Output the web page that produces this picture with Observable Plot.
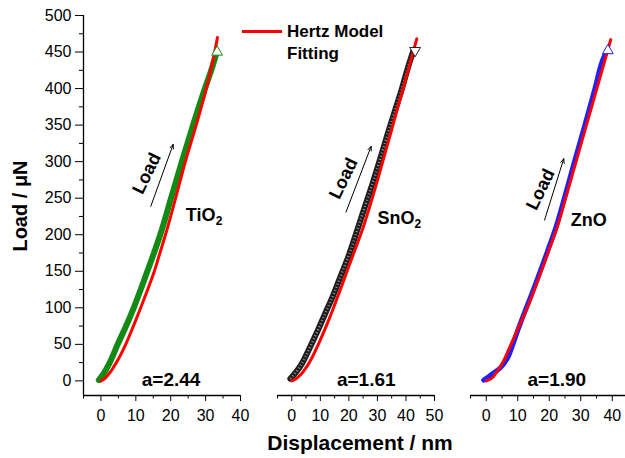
<!DOCTYPE html>
<html><head><meta charset="utf-8">
<script src="https://cdn.jsdelivr.net/npm/d3@7"></script>
<script src="https://cdn.jsdelivr.net/npm/@observablehq/plot@0.6"></script>
<style>
body{margin:0;background:#fff;}
#chart{position:relative;width:625px;height:458px;overflow:hidden;background:#fff;font-family:"Liberation Sans",Arial,sans-serif;}
#chart svg{position:absolute;left:0;top:0;}
.lbl{position:absolute;font-weight:bold;color:#000;white-space:nowrap;}
</style></head><body>
<div id="chart"></div>
<script>
// ---- data ----
const yDomain = [-20, 500];
const yTicks = [0, 50, 100, 150, 200, 250, 300, 350, 400, 450, 500];
const yMinorTicks = [25, 75, 125, 175, 225, 275, 325, 375, 425, 475];

const tio2XDomain = [-5, 40];
const tio2XTicks = [0, 10, 20, 30, 40];
const tio2XMinor = [-5, 5, 15, 25, 35];
const tio2Measured = [[-0.6,1],[0.5,8],[2.4,24],[4.8,50],[7.2,75],[9.4,100],[11.4,125],[13.3,150],[15.2,175],[17.0,200],[20.1,250],[23.2,300],[26.4,350],[29.8,400],[31.6,425],[33.2,450]];
const tio2Fit = [[0,0],[1,3],[2,8],[3,14],[4,22],[5,30],[7.1,50],[9.3,75],[11.4,100],[13.4,125],[15.3,150],[16.9,175],[18.5,200],[21.4,250],[24.2,300],[27.3,350],[30.2,400],[32.6,450],[33.4,470]];
const tio2End = [33.3, 450];

const sno2XDomain = [-5, 50];
const sno2XTicks = [0, 10, 20, 30, 40, 50];
const sno2XMinor = [-5, 5, 15, 25, 35, 45];
const sno2Measured = [[-0.5,3],[1.5,12],[3.6,24],[6,43],[9.1,69],[11.8,93],[14.4,116],[17,142],[20,172],[22.9,206],[25.5,237],[28.3,270],[31,304],[33.6,338],[36.1,369],[38.6,400],[40.8,430],[42.6,452]];
const sno2Fit = [[0,0],[1.5,3],[3,8],[5,18],[7.5,35],[10,56],[12.5,79],[15,104],[17.5,130],[20,157],[22.5,183],[25,210],[27.5,241],[30,274],[32.5,309],[35,344],[37.5,379],[40,414],[42.5,450],[43.8,468]];
const sno2End = [43.2, 452];

const znoXDomain = [-5, 44.2];
const znoXTicks = [0, 10, 20, 30, 40];
const znoXMinor = [-5, 5, 15, 25, 35];
const znoMeasured = [[-0.8,1],[1.8,9],[4.5,18],[6.6,30],[8.2,47],[10,69],[12,92],[14.1,115],[16.1,138],[18,160],[19.9,183],[21.8,206],[24.8,250],[28,300],[31.3,350],[34.5,400],[37.5,445],[38.3,452]];
const znoFit = [[0,0],[1.5,3],[2.95,10],[5.1,24],[7.5,46.5],[9.8,69],[12.2,92],[14.4,115],[16.4,138],[18.3,160],[20.2,183],[22.2,206],[25.2,250],[28.5,300],[31.8,350],[35.1,400],[38.4,450],[39.5,467]];
const znoEnd = [38.6, 452];

const exponents = ["a=2.44", "a=1.61", "a=1.90"];
const materials = ["TiO", "SnO", "ZnO"];
const subscripts = ["2", "2", ""];

const panels = [
  {xDomain: tio2XDomain, xTicks: tio2XTicks, xMinor: tio2XMinor, measured: tio2Measured, fit: tio2Fit, end: tio2End,
   color: "#138a13", width: 6, hatch: false, markerRotate: 0, yAxis: true, left: 83, right: 240,
   aPos: [20.1, 2], matPos: [24.3, 227], subDx: 30,
   arrow: {x1: 14.3, y1: 239, x2: 20.7, y2: 323.7}, loadPos: [13.1, 284]},
  {xDomain: sno2XDomain, xTicks: sno2XTicks, xMinor: sno2XMinor, measured: sno2Measured, fit: sno2Fit, end: sno2End,
   color: "#1e1e1e", width: 6, hatch: true, markerRotate: 180, yAxis: false, left: 277, right: 434,
   aPos: [26.1, 2], matPos: [30.0, 222], subDx: 37,
   arrow: {x1: 19.0, y1: 231, x2: 27.8, y2: 321}, loadPos: [18.1, 277]},
  {xDomain: znoXDomain, xTicks: znoXTicks, xMinor: znoXMinor, measured: znoMeasured, fit: znoFit, end: znoEnd,
   color: "#1f1fff", width: 5, hatch: false, markerRotate: 0, yAxis: false, left: 470, right: 625,
   aPos: [22.4, 2], matPos: [26.8, 220], subDx: 0,
   arrow: {x1: 18.5, y1: 220, x2: 24.6, y2: 304}, loadPos: [17.2, 262]}
];

const chart = document.getElementById("chart");
const W = 625, H = 458;
const font = "Liberation Sans, Arial, sans-serif";

panels.forEach((p, i) => {
  const marks = [];
  if (p.yAxis) {
    marks.push(Plot.ruleX([p.xDomain[0]], {stroke: "#000", strokeWidth: 1.3}));
    marks.push(Plot.axisY(yTicks, {tickSize: 8, tickPadding: 4, fontSize: 16, label: null}));
    marks.push(Plot.axisY(yMinorTicks, {tickSize: 4, tickFormat: () => "", label: null}));
  }
  marks.push(Plot.ruleY([yDomain[0]], {stroke: "#000", strokeWidth: 1.3}));
  marks.push(Plot.axisX(p.xTicks, {tickSize: 6, tickPadding: 8, fontSize: 16, label: null}));
  marks.push(Plot.axisX(p.xMinor, {tickSize: 3.5, tickFormat: () => "", label: null}));
  marks.push(Plot.line(p.measured, {x: d => d[0], y: d => d[1], stroke: p.color, strokeWidth: p.width, curve: "monotone-y"}));
  if (p.hatch) {
    marks.push(Plot.line(p.measured, {x: d => d[0], y: d => d[1], stroke: "#9a9a9a", strokeWidth: 2.5, strokeDasharray: "0.9,2.4", strokeLinecap: "butt", curve: "monotone-y"}));
  }
  marks.push(Plot.line(p.fit, {x: d => d[0], y: d => d[1], stroke: "#ff0000", strokeWidth: 3, curve: "monotone-y"}));
  marks.push(Plot.dot([p.end], {x: d => d[0], y: d => d[1], symbol: "triangle", r: 4, stroke: p.color, fill: "white", strokeWidth: 1, rotate: p.markerRotate}));
  marks.push(Plot.text([exponents[i]], {x: p.aPos[0], y: p.aPos[1], text: d => d, fontSize: 19, fontWeight: "bold", fill: "#000"}));
  marks.push(Plot.text([materials[i]], {x: p.matPos[0], y: p.matPos[1], text: d => d, fontSize: 18, fontWeight: "bold", textAnchor: "start", fill: "#000"}));
  if (subscripts[i]) {
    marks.push(Plot.text([subscripts[i]], {x: p.matPos[0], y: p.matPos[1], text: d => d, fontSize: 12, fontWeight: "bold", textAnchor: "start", dx: p.subDx, dy: 6, fill: "#000"}));
  }
  marks.push(Plot.arrow([p.arrow], {x1: "x1", y1: "y1", x2: "x2", y2: "y2", stroke: "#000", strokeWidth: 1, headLength: 7, headAngle: 45}));
  marks.push(Plot.text(["Load"], {x: p.loadPos[0], y: p.loadPos[1], text: d => d, rotate: -64, fontSize: 18, fontWeight: "bold", fill: "#000"}));

  const svg = Plot.plot({
    width: W, height: H,
    marginLeft: p.left, marginRight: W - p.right, marginTop: 15, marginBottom: 63,
    x: {domain: p.xDomain, label: null},
    y: {domain: yDomain, label: null, axis: p.yAxis ? undefined : null},
    style: {background: "transparent", fontFamily: font, fontSize: "16px", color: "#000", overflow: "visible"},
    marks
  });
  chart.appendChild(svg);
});

// titles & legend (HTML text)
function addLabel(text, css) {
  const d = document.createElement("div");
  d.className = "lbl";
  d.textContent = text;
  Object.assign(d.style, css);
  chart.appendChild(d);
  return d;
}
addLabel("Load / μN", {left: "20px", top: "206px", fontSize: "20px", lineHeight: "20px", transform: "translate(-50%,-50%) rotate(-90deg)"});
addLabel("Displacement / nm", {left: "360px", top: "432px", fontSize: "21px", lineHeight: "21px", transform: "translateX(-50%)"});
const legendLine = document.createElement("div");
Object.assign(legendLine.style, {position: "absolute", left: "242px", top: "30px", width: "40px", height: "3px", background: "#ff0000"});
chart.appendChild(legendLine);
const lg = addLabel("", {left: "287px", top: "21px", fontSize: "17px", lineHeight: "21.6px"});
lg.innerHTML = "Hertz Model<br>Fitting";
</script>
</body></html>
